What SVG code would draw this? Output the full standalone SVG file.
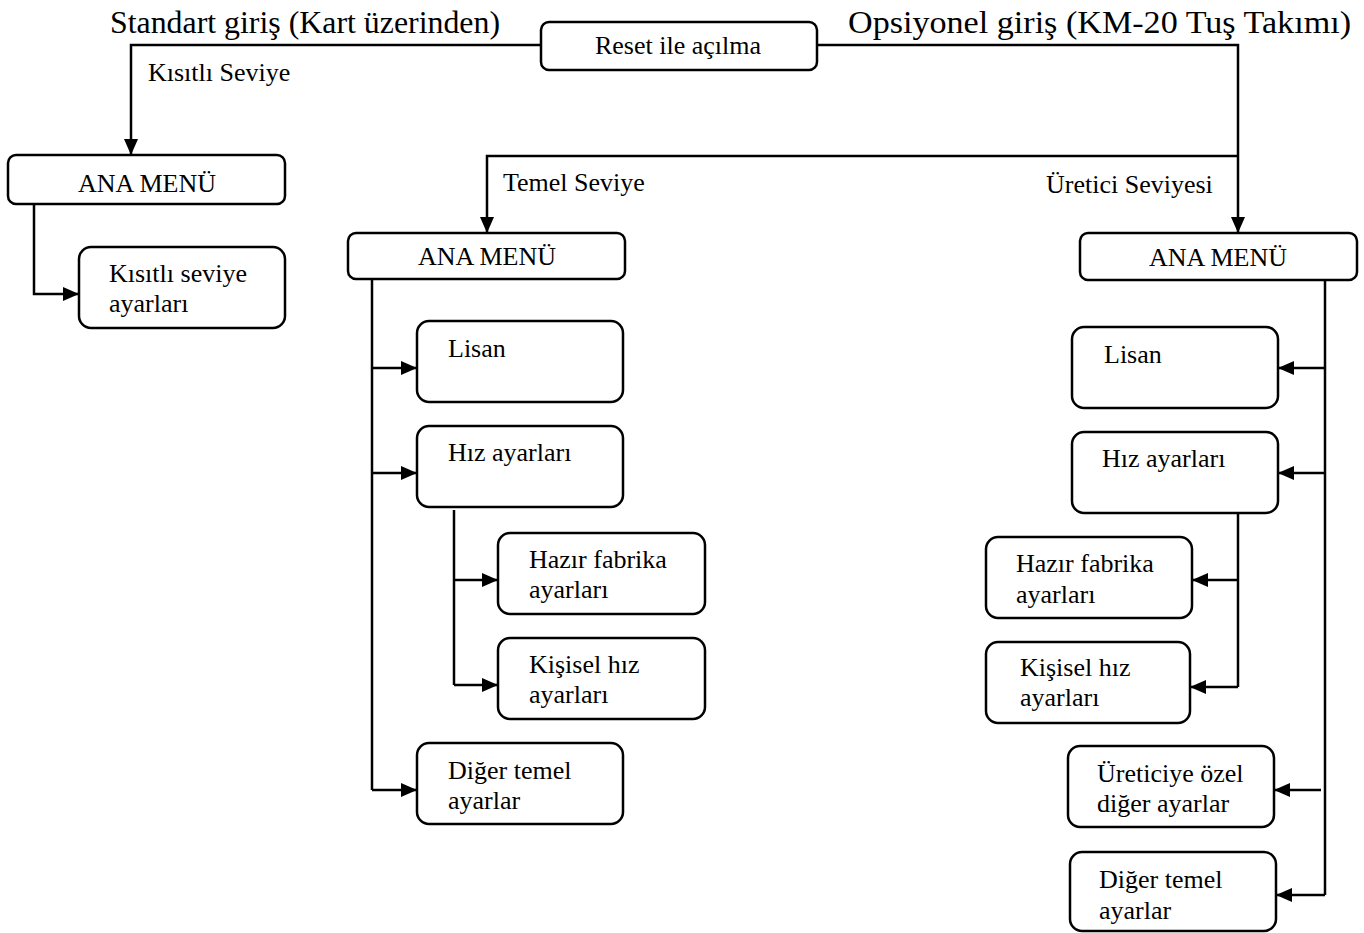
<svg xmlns="http://www.w3.org/2000/svg" width="1364" height="933" viewBox="0 0 1364 933">
<style>
.box{fill:#fff;stroke:#000;stroke-width:2.5}
.t{font-family:"Liberation Serif","Times New Roman",serif;font-size:26px;fill:#000}
.h{font-family:"Liberation Serif","Times New Roman",serif;font-size:32px;fill:#000}
.c{text-anchor:middle}
.ln{fill:none;stroke:#000;stroke-width:2.5}
</style>
<defs>
<marker id="ar" markerUnits="userSpaceOnUse" markerWidth="16" markerHeight="16" viewBox="0 0 16 16" refX="16" refY="8" orient="auto">
<path d="M0,1 L16,8 L0,15 Z" fill="#000"/>
</marker>
</defs>
<rect width="1364" height="933" fill="#fff"/>
<g id="labels">
<text class="h" x="110" y="33" textLength="390" lengthAdjust="spacingAndGlyphs">Standart giriş (Kart üzerinden)</text>
<text class="h" x="848" y="33" textLength="503" lengthAdjust="spacingAndGlyphs">Opsiyonel giriş (KM-20 Tuş Takımı)</text>
<text class="t" x="148" y="81">Kısıtlı Seviye</text>
<text class="t" x="503" y="191">Temel Seviye</text>
<text class="t" x="1046" y="193">Üretici Seviyesi</text>
</g>
<g id="connectors">
<path class="ln" d="M541,45 H131 V155" marker-end="url(#ar)"/>
<path class="ln" d="M817,45 H1238 V233" marker-end="url(#ar)"/>
<path class="ln" d="M1238,156 H487 V233" marker-end="url(#ar)"/>
<path class="ln" d="M34,204 V294 H79" marker-end="url(#ar)"/>
<path class="ln" d="M372,279 V790"/>
<path class="ln" d="M372,368 H417" marker-end="url(#ar)"/>
<path class="ln" d="M372,473 H417" marker-end="url(#ar)"/>
<path class="ln" d="M372,790 H417" marker-end="url(#ar)"/>
<path class="ln" d="M454,510 V685"/>
<path class="ln" d="M454,580 H498" marker-end="url(#ar)"/>
<path class="ln" d="M454,685 H498" marker-end="url(#ar)"/>
<path class="ln" d="M1325,280 V895"/>
<path class="ln" d="M1325,368 H1278" marker-end="url(#ar)"/>
<path class="ln" d="M1325,473 H1278" marker-end="url(#ar)"/>
<path class="ln" d="M1321,790 H1274" marker-end="url(#ar)"/>
<path class="ln" d="M1325,895 H1276" marker-end="url(#ar)"/>
<path class="ln" d="M1238,513 V687"/>
<path class="ln" d="M1238,580 H1192" marker-end="url(#ar)"/>
<path class="ln" d="M1238,687 H1190" marker-end="url(#ar)"/>
</g>
<g id="reset"><rect class="box" x="541" y="22" width="276" height="48" rx="8"/><text class="t c" x="678" y="54">Reset ile açılma</text></g>
<g id="anamenu-left"><rect class="box" x="8" y="155" width="277" height="49" rx="8"/><text class="t c" x="147" y="192">ANA MENÜ</text></g>
<g id="kisitli-ayar"><rect class="box" x="79" y="247" width="206" height="81" rx="12"/><text class="t" x="109" y="282">Kısıtlı seviye</text><text class="t" x="109" y="312">ayarları</text></g>
<g id="anamenu-mid"><rect class="box" x="348" y="233" width="277" height="46" rx="8"/><text class="t c" x="487" y="265">ANA MENÜ</text></g>
<g id="lisan-mid"><rect class="box" x="417" y="321" width="206" height="81" rx="12"/><text class="t" x="448" y="357">Lisan</text></g>
<g id="hiz-mid"><rect class="box" x="417" y="426" width="206" height="81" rx="12"/><text class="t" x="448" y="461">Hız ayarları</text></g>
<g id="hazir-mid"><rect class="box" x="498" y="533" width="207" height="81" rx="12"/><text class="t" x="529" y="568">Hazır fabrika</text><text class="t" x="529" y="598">ayarları</text></g>
<g id="kisisel-mid"><rect class="box" x="498" y="638" width="207" height="81" rx="12"/><text class="t" x="529" y="673">Kişisel hız</text><text class="t" x="529" y="703">ayarları</text></g>
<g id="diger-mid"><rect class="box" x="417" y="743" width="206" height="81" rx="12"/><text class="t" x="448" y="779">Diğer temel</text><text class="t" x="448" y="809">ayarlar</text></g>
<g id="anamenu-right"><rect class="box" x="1080" y="233" width="277" height="47" rx="8"/><text class="t c" x="1218" y="266">ANA MENÜ</text></g>
<g id="lisan-right"><rect class="box" x="1072" y="327" width="206" height="81" rx="12"/><text class="t" x="1104" y="363">Lisan</text></g>
<g id="hiz-right"><rect class="box" x="1072" y="432" width="206" height="81" rx="12"/><text class="t" x="1102" y="467">Hız ayarları</text></g>
<g id="hazir-right"><rect class="box" x="986" y="537" width="206" height="81" rx="12"/><text class="t" x="1016" y="572">Hazır fabrika</text><text class="t" x="1016" y="603">ayarları</text></g>
<g id="kisisel-right"><rect class="box" x="986" y="642" width="204" height="81" rx="12"/><text class="t" x="1020" y="676">Kişisel hız</text><text class="t" x="1020" y="706">ayarları</text></g>
<g id="ureticiye-right"><rect class="box" x="1068" y="746" width="206" height="81" rx="12"/><text class="t" x="1097" y="782">Üreticiye özel</text><text class="t" x="1097" y="812">diğer ayarlar</text></g>
<g id="diger-right"><rect class="box" x="1070" y="852" width="206" height="79" rx="12"/><text class="t" x="1099" y="888">Diğer temel</text><text class="t" x="1099" y="919">ayarlar</text></g>
</svg>
